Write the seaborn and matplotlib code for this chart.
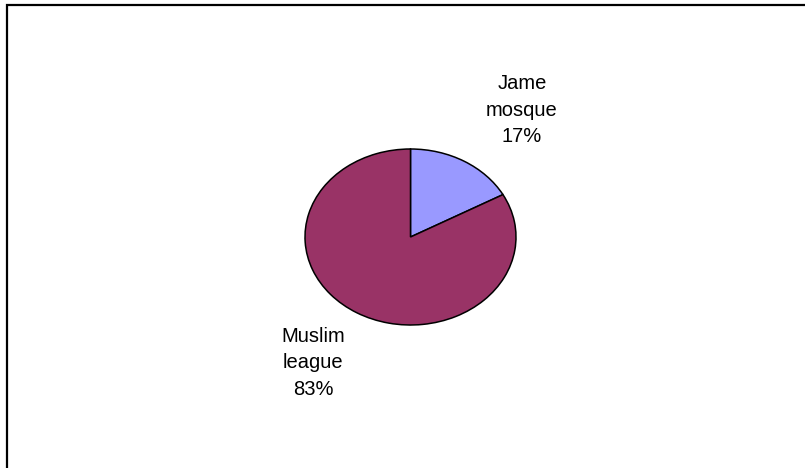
import matplotlib
matplotlib.use("Agg")
import matplotlib.pyplot as plt
from matplotlib.patches import Rectangle
import seaborn as sns

# Share of respondents by affiliation
categories = ["Jame\nmosque", "Muslim\nleague"]
shares = [17, 83]
slice_colors = ["#9999FF", "#993366"]

sns.set_theme(style="white")
plt.rcParams["font.family"] = ["Liberation Sans", "DejaVu Sans"]

W, H = 805, 468
fig = plt.figure(figsize=(W / 100, H / 100), dpi=100)
fig.patch.set_facecolor("white")

# Outer chart frame (open toward the right/bottom edges)
fig.add_artist(Rectangle((6.5 / W, -0.05), 1.2, 1 - 5.5 / H + 0.05,
                         transform=fig.transFigure, fill=False,
                         edgecolor="black", linewidth=1.6, clip_on=False))

# Pie axes: an elliptical pie, 211 px wide and 176 px tall
cx, cy, rx, ry = 410.5, 237, 105.5, 88
ax = fig.add_axes([(cx - rx) / W, 1 - (cy + ry) / H, 2 * rx / W, 2 * ry / H])
ax.pie(shares, colors=slice_colors, startangle=90, counterclock=False,
       radius=1, wedgeprops=dict(edgecolor="black", linewidth=1.1))
ax.set_aspect("auto")
ax.set_xlim(-1, 1)
ax.set_ylim(-1, 1)
ax.axis("off")

label_pos = [(1.057, 1.44), (-0.924, -1.43)]
for name, val, (lx, ly) in zip(categories, shares, label_pos):
    ax.text(lx, ly, f"{name}\n{val}%", ha="center", va="center",
            fontsize=14.5, color="black", linespacing=1.5, clip_on=False)

fig.savefig("out.png", dpi=100, facecolor="white")
